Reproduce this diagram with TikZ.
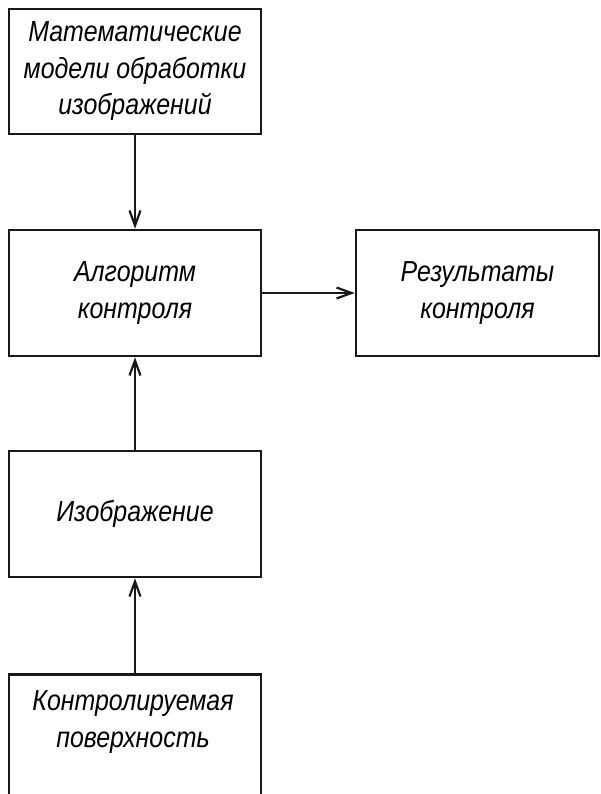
\documentclass[tikz,border=0pt]{standalone}
\usepackage{fontspec}
\usetikzlibrary{arrows.meta}
\newfontfamily\gostfont{Liberation Sans}[FakeStretch=0.86]
\begin{document}
\begin{tikzpicture}[x=1pt, y=-1pt,
  block/.style={draw=black!90, line width=2.6pt, minimum width=252pt,
    minimum height=126pt, inner sep=0pt, align=center,
    font=\gostfont\itshape\fontsize{29}{36.5}\selectfont},
  label text/.style={inner sep=0pt, align=center,
    font=\gostfont\itshape\fontsize{29}{36.5}\selectfont},
  flow/.style={draw=black!90, line width=2.4pt,
    -{Straight Barb[length=15pt, width=11pt, line width=2.2pt]}}]
  \useasboundingbox (0,0) rectangle (601,794);
  \clip (0,0) rectangle (601,794);

  % blocks of the control scheme
  \node[block, minimum height=125pt] (models) at (135,71.5)
    {Математические\\модели обработки\\изображений};
  \node[block] (alg) at (135,293) {Алгоритм\\контроля};
  \node[block, minimum width=243pt] (res) at (477.5,293) {Результаты\\контроля};
  \node[block] (img) at (135,514) {Изображение};
  \node[block, anchor=north, minimum height=140pt] (surf) at (135,673) {};
  \node[label text] (surftext) at (133,722) {Контролируемая\\поверхность};

  % information flow
  \draw[flow] (models.south) -- (alg.north);
  \draw[flow] (alg.east) -- (res.west);
  \draw[flow] (img.north) -- (alg.south);
  \draw[flow] (surf.north) -- (img.south);
\end{tikzpicture}
\end{document}
